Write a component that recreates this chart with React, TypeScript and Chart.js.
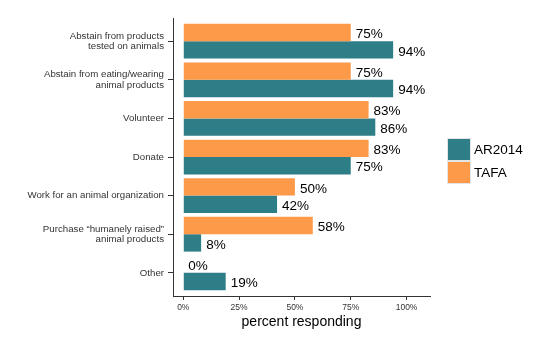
import React, { useEffect, useRef } from "react";
import { Chart, registerables } from "chart.js";

Chart.register(...registerables);

const categories: (string | string[])[] = [
  ["Abstain from products", "tested on animals"],
  ["Abstain from eating/wearing", "animal products"],
  "Volunteer",
  "Donate",
  "Work for an animal organization",
  ["Purchase \u201chumanely raised\u201d", "animal products"],
  "Other",
];
const tafaValues = [75, 75, 83, 83, 50, 58, 0];
const ar2014Values = [94, 94, 86, 75, 42, 8, 19];
const xTickValues = [0, 25, 50, 75, 100];
const legendOrder = ["AR2014", "TAFA"];

const TEAL = "#2D7E87";
const ORANGE = "#FD9A4A";
const FONT = "'Liberation Sans', Arial, Helvetica, sans-serif";

export default function App() {
  const ref = useRef<HTMLCanvasElement | null>(null);

  useEffect(() => {
    document.body.style.margin = "0";
    const canvas = ref.current;
    if (!canvas) return;

    const labelPlugin = {
      id: "barLabels",
      afterDatasetsDraw(chart: any) {
        const ctx = chart.ctx;
        ctx.save();
        ctx.font = `13.5px ${FONT}`;
        ctx.fillStyle = "#000";
        ctx.textAlign = "left";
        ctx.textBaseline = "middle";
        chart.data.datasets.forEach((ds: any, di: number) => {
          const meta = chart.getDatasetMeta(di);
          meta.data.forEach((el: any, i: number) => {
            const v = ds.data[i].x;
            ctx.fillText(`${v}%`, el.x + 5, el.y + 2);
          });
        });
        ctx.restore();
      },
    };

    const legendPlugin = {
      id: "customLegend",
      afterDraw(chart: any) {
        const ctx = chart.ctx;
        ctx.save();
        const colors: Record<string, string> = { AR2014: TEAL, TAFA: ORANGE };
        legendOrder.forEach((name, i) => {
          const y = 138 + i * 23;
          ctx.fillStyle = colors[name];
          ctx.fillRect(447, y, 24, 23);
          ctx.strokeStyle = "#e4e4e4";
          ctx.lineWidth = 1;
          ctx.strokeRect(447.5, y + 0.5, 23, 22);
          ctx.fillStyle = "#000";
          ctx.font = `13.5px ${FONT}`;
          ctx.textAlign = "left";
          ctx.textBaseline = "middle";
          ctx.fillText(name, 474, y + 12);
        });
        ctx.restore();
      },
    };

    const chart = new Chart(canvas, {
      type: "bar",
      data: {
        datasets: [
          {
            label: "TAFA",
            data: tafaValues.map((v, i) => ({ x: v, y: i })),
            backgroundColor: ORANGE,
            borderWidth: 0,
            categoryPercentage: 0.9,
            barPercentage: 1,
          },
          {
            label: "AR2014",
            data: ar2014Values.map((v, i) => ({ x: v, y: i })),
            backgroundColor: TEAL,
            borderWidth: 0,
            categoryPercentage: 0.9,
            barPercentage: 1,
          },
        ],
      } as any,
      options: {
        indexAxis: "y",
        animation: false,
        responsive: false,
        maintainAspectRatio: false,
        layout: { padding: { left: 0, top: 18, right: 130, bottom: 0 } },
        plugins: {
          legend: { display: false },
          tooltip: { enabled: false },
        },
        scales: {
          y: {
            type: "linear",
            reverse: true,
            offset: false,
            min: -0.6,
            max: 6.6,
            afterBuildTicks: (s: any) => {
              s.ticks = categories.map((_, i) => ({ value: i }));
            },
            afterFit: (s: any) => {
              s.width = 173;
            },
            ticks: {
              autoSkip: false,
              padding: 4,
              color: "#333",
              font: { family: FONT, size: 9.7, lineHeight: 1.1 },
              callback: (v: any) => categories[v as number],
            },
            grid: {
              offset: false,
              drawOnChartArea: false,
              drawTicks: true,
              tickLength: 5,
              color: "#333",
            },
            border: { display: true, color: "#333", width: 1 },
          },
          x: {
            type: "linear",
            min: -4.6,
            max: 110.5,
            afterBuildTicks: (s: any) => {
              s.ticks = xTickValues.map((v) => ({ value: v }));
            },
            afterFit: (s: any) => {
              s.height = 44;
            },
            ticks: {
              autoSkip: false,
              maxRotation: 0,
              padding: 3,
              color: "#333",
              font: { family: FONT, size: 8.5 },
              callback: (v: any) => `${v}%`,
            },
            grid: {
              drawOnChartArea: false,
              drawTicks: true,
              tickLength: 4,
              color: "#333",
            },
            border: { display: true, color: "#333", width: 1 },
            title: {
              display: true,
              text: "percent responding",
              color: "#000",
              font: { family: FONT, size: 14 },
              padding: { top: 0, bottom: 9.6 },
            },
          },
        },
      } as any,
      plugins: [labelPlugin, legendPlugin],
    });

    return () => chart.destroy();
  }, []);

  return (
    <div style={{ width: 560, height: 340, position: "relative", background: "#fff" }}>
      <canvas ref={ref} width={560} height={340} style={{ width: 560, height: 340 }} />
    </div>
  );
}
